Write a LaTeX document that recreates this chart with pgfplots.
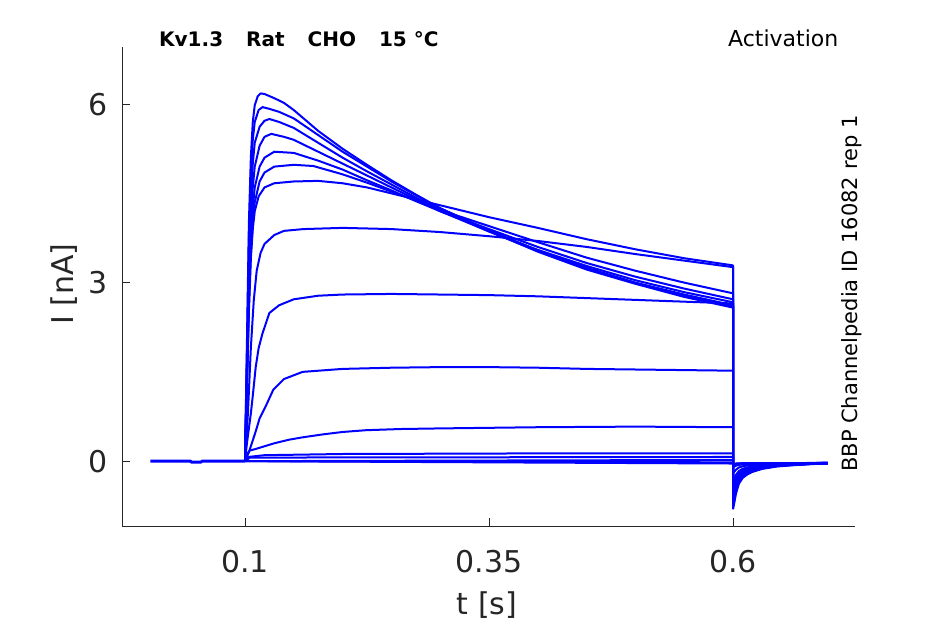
\documentclass[border=0pt]{standalone}
\usepackage{fontspec}
\setmainfont{DejaVu Sans}
\usepackage{pgfplots}
\pgfplotsset{compat=1.18}
\definecolor{txt}{HTML}{262626}
\pgfplotscreateplotcyclelist{bl}{blue,solid,mark=none,line width=2bp,line join=round\\}
\begin{document}
\begin{tikzpicture}
\path[use as bounding box] (0bp,0bp) rectangle (945bp,624bp);
\begin{axis}[at={(122bp,98bp)}, anchor=south west, scale only axis, width=733bp, height=479bp,
 xmin=-0.026, xmax=0.725, ymin=-1.09, ymax=6.96,
 axis x line=bottom, axis y line=left, axis line style={-, txt, line width=0.8bp},
 tick align=inside, major tick length=8bp, tick style={txt, line width=0.8bp},
 xtick={0.1,0.35,0.6}, xticklabels={0.1,0.35,0.6}, ytick={0,3,6}, yticklabels={0,3,6},
 /pgf/number format/assume math mode=true,
 ticklabel style={font=\fontsize{30bp}{36bp}\selectfont, text=txt},
 xticklabel style={anchor=north, inner sep=0pt, yshift=-24bp},
 yticklabel style={anchor=east, inner sep=0pt, xshift=-14bp},
 cycle list name=bl,
]
% baseline before step
\addplot+[line width=3bp] coordinates {(0.003,0)(0.044,0)(0.045,-0.015)(0.055,-0.015)(0.056,0)(0.1,0)};
% A
\addplot coordinates {(0.1,0)(0.102,2.0)(0.104,4.0)(0.106,5.1)(0.108,5.7)(0.11,5.98)(0.113,6.13)(0.116,6.18)(0.12,6.17)(0.13,6.1)(0.14,6.02)(0.15,5.9)(0.175,5.55)(0.2,5.25)(0.225,4.98)(0.25,4.72)(0.275,4.48)(0.3,4.25)(0.35,3.87)(0.4,3.52)(0.45,3.22)(0.5,2.98)(0.55,2.76)(0.6,2.58)
(0.6002,-0.8)(0.603,-0.55)(0.606,-0.38)(0.61,-0.28)(0.615,-0.22)(0.62,-0.18)(0.63,-0.13)(0.645,-0.09)(0.66,-0.07)(0.68,-0.05)(0.697,-0.04)};
% B
\addplot coordinates {(0.1,0)(0.102,1.8)(0.104,3.7)(0.106,4.8)(0.108,5.4)(0.11,5.7)(0.114,5.9)(0.118,5.95)(0.125,5.92)(0.135,5.87)(0.15,5.76)(0.175,5.48)(0.2,5.2)(0.225,4.95)(0.25,4.7)(0.275,4.47)(0.3,4.25)(0.35,3.88)(0.4,3.54)(0.45,3.25)(0.5,3.0)(0.55,2.8)(0.6,2.62)
(0.6002,-0.74)(0.603,-0.51)(0.606,-0.35)(0.61,-0.26)(0.615,-0.205)(0.62,-0.168)(0.63,-0.122)(0.645,-0.085)(0.66,-0.067)(0.68,-0.048)(0.697,-0.039)};
% C
\addplot coordinates {(0.1,0)(0.102,1.6)(0.104,3.3)(0.106,4.4)(0.108,5.0)(0.11,5.35)(0.115,5.62)(0.12,5.72)(0.125,5.75)(0.135,5.7)(0.15,5.6)(0.175,5.35)(0.2,5.1)(0.225,4.87)(0.25,4.65)(0.275,4.43)(0.3,4.22)(0.35,3.86)(0.4,3.53)(0.45,3.24)(0.5,2.99)(0.55,2.78)(0.6,2.6)
(0.6002,-0.68)(0.603,-0.467)(0.606,-0.324)(0.61,-0.24)(0.615,-0.19)(0.62,-0.156)(0.63,-0.114)(0.645,-0.08)(0.66,-0.064)(0.68,-0.047)(0.697,-0.038)};
% D
\addplot coordinates {(0.1,0)(0.102,1.5)(0.104,3.0)(0.106,4.0)(0.108,4.6)(0.11,4.95)(0.115,5.3)(0.12,5.45)(0.127,5.5)(0.14,5.45)(0.15,5.4)(0.175,5.2)(0.2,5.0)(0.225,4.8)(0.25,4.6)(0.275,4.4)(0.3,4.2)(0.35,3.86)(0.4,3.55)(0.45,3.28)(0.5,3.04)(0.55,2.84)(0.6,2.67)
(0.6002,-0.62)(0.603,-0.43)(0.606,-0.30)(0.61,-0.223)(0.615,-0.176)(0.62,-0.146)(0.63,-0.107)(0.645,-0.076)(0.66,-0.061)(0.68,-0.045)(0.697,-0.038)};
% E
\addplot coordinates {(0.1,0)(0.102,1.4)(0.104,2.8)(0.106,3.7)(0.108,4.25)(0.11,4.6)(0.115,4.95)(0.12,5.1)(0.13,5.2)(0.15,5.18)(0.175,5.05)(0.2,4.9)(0.225,4.72)(0.25,4.55)(0.275,4.37)(0.3,4.2)(0.35,3.9)(0.4,3.6)(0.45,3.33)(0.5,3.1)(0.55,2.9)(0.6,2.72)
(0.6002,-0.57)(0.603,-0.394)(0.606,-0.275)(0.61,-0.205)(0.615,-0.163)(0.62,-0.135)(0.63,-0.10)(0.645,-0.072)(0.66,-0.058)(0.68,-0.044)(0.697,-0.037)};
% F
\addplot coordinates {(0.1,0)(0.102,1.3)(0.104,2.6)(0.106,3.5)(0.108,4.0)(0.11,4.35)(0.115,4.7)(0.12,4.85)(0.13,4.95)(0.15,4.98)(0.17,4.96)(0.2,4.82)(0.225,4.68)(0.25,4.53)(0.275,4.38)(0.3,4.22)(0.35,3.95)(0.4,3.68)(0.45,3.42)(0.5,3.2)(0.55,3.0)(0.6,2.82)
(0.6002,-0.52)(0.603,-0.363)(0.606,-0.254)(0.61,-0.19)(0.615,-0.152)(0.62,-0.126)(0.63,-0.094)(0.645,-0.068)(0.66,-0.056)(0.68,-0.043)(0.697,-0.036)};
% G
\addplot coordinates {(0.1,0)(0.102,1.2)(0.104,2.5)(0.106,3.4)(0.108,3.9)(0.11,4.2)(0.114,4.45)(0.12,4.6)(0.13,4.67)(0.15,4.7)(0.175,4.71)(0.2,4.67)(0.225,4.6)(0.25,4.5)(0.275,4.4)(0.3,4.3)(0.35,4.1)(0.4,3.92)(0.45,3.73)(0.5,3.56)(0.55,3.41)(0.6,3.29)
(0.6002,-0.47)(0.603,-0.326)(0.606,-0.23)(0.61,-0.173)(0.615,-0.138)(0.62,-0.116)(0.63,-0.087)(0.645,-0.064)(0.66,-0.053)(0.68,-0.041)(0.697,-0.036)};
% H
\addplot coordinates {(0.1,0)(0.103,0.8)(0.106,1.9)(0.109,2.7)(0.112,3.2)(0.116,3.5)(0.12,3.65)(0.13,3.8)(0.14,3.87)(0.16,3.9)(0.2,3.92)(0.25,3.9)(0.3,3.85)(0.35,3.78)(0.4,3.7)(0.45,3.6)(0.5,3.48)(0.55,3.37)(0.6,3.26)
(0.6002,-0.42)(0.603,-0.295)(0.606,-0.209)(0.61,-0.158)(0.615,-0.127)(0.62,-0.107)(0.63,-0.081)(0.645,-0.061)(0.66,-0.05)(0.68,-0.04)(0.697,-0.035)};
% I
\addplot coordinates {(0.1,0)(0.102,0.3)(0.104,0.55)(0.106,0.8)(0.108,1.1)(0.111,1.58)(0.114,1.9)(0.118,2.15)(0.125,2.49)(0.135,2.62)(0.15,2.72)(0.175,2.78)(0.2,2.8)(0.25,2.81)(0.3,2.8)(0.35,2.79)(0.4,2.77)(0.45,2.74)(0.5,2.71)(0.55,2.68)(0.6,2.65)
(0.6002,-0.33)(0.603,-0.233)(0.606,-0.167)(0.61,-0.128)(0.615,-0.104)(0.62,-0.089)(0.63,-0.069)(0.645,-0.053)(0.66,-0.046)(0.68,-0.038)(0.697,-0.034)};
% J
\addplot coordinates {(0.1,0)(0.104,0.15)(0.107,0.3)(0.111,0.5)(0.115,0.72)(0.122,0.95)(0.129,1.2)(0.14,1.38)(0.159,1.5)(0.2,1.55)(0.25,1.57)(0.3,1.58)(0.35,1.58)(0.4,1.57)(0.45,1.55)(0.5,1.54)(0.55,1.53)(0.6,1.52)
(0.6002,-0.2)(0.603,-0.144)(0.606,-0.107)(0.61,-0.085)(0.615,-0.072)(0.62,-0.063)(0.63,-0.052)(0.645,-0.043)(0.66,-0.039)(0.68,-0.034)(0.697,-0.032)};
% K
\addplot coordinates {(0.1,0)(0.102,0.12)(0.105,0.18)(0.11,0.2)(0.118,0.24)(0.13,0.3)(0.145,0.36)(0.159,0.4)(0.18,0.45)(0.2,0.49)(0.224,0.52)(0.26,0.54)(0.3,0.55)(0.35,0.56)(0.4,0.57)(0.5,0.58)(0.6,0.57)
(0.6002,-0.1)(0.603,-0.077)(0.606,-0.062)(0.61,-0.053)(0.615,-0.047)(0.62,-0.044)(0.63,-0.039)(0.645,-0.035)(0.66,-0.034)(0.68,-0.032)(0.697,-0.031)};
% L-P
\addplot coordinates {(0.1,0)(0.103,0.07)(0.12,0.1)(0.2,0.12)(0.4,0.13)(0.6,0.13)(0.6002,-0.07)(0.61,-0.045)(0.697,-0.03)};
\addplot coordinates {(0.1,0)(0.105,0.06)(0.6,0.07)(0.6002,-0.06)(0.61,-0.04)(0.697,-0.03)};
\addplot coordinates {(0.1,0)(0.6,0.02)(0.6002,-0.05)(0.61,-0.035)(0.697,-0.03)};
\addplot coordinates {(0.1,0)(0.6,-0.02)(0.6002,-0.05)(0.697,-0.03)};
\addplot coordinates {(0.1,0)(0.6,-0.04)(0.697,-0.03)};
\end{axis}
\node[anchor=base west, inner sep=0pt, font=\fontsize{20bp}{24bp}\selectfont\bfseries, text=black] at (159bp,577bp) {Kv1.3\hspace{1.15em}Rat\hspace{1.15em}CHO\hspace{1.15em}15 °C};
\node[anchor=base west, inner sep=0pt, font=\fontsize{22bp}{26bp}\selectfont, text=black] at (728bp,577bp) {Activation};
\node[rotate=90, anchor=base west, inner sep=0pt, font=\fontsize{21bp}{25bp}\selectfont, text=black] at (857bp,152bp) {BBP Channelpedia ID 16082 rep 1};
\node[rotate=90, anchor=base, inner sep=0pt, font=\fontsize{30bp}{36bp}\selectfont, text=txt] at (73bp,340bp) {I [nA]};
\node[anchor=base, inner sep=0pt, font=\fontsize{30bp}{36bp}\selectfont, text=txt] at (487bp,10bp) {t [s]};
\end{tikzpicture}
\end{document}
